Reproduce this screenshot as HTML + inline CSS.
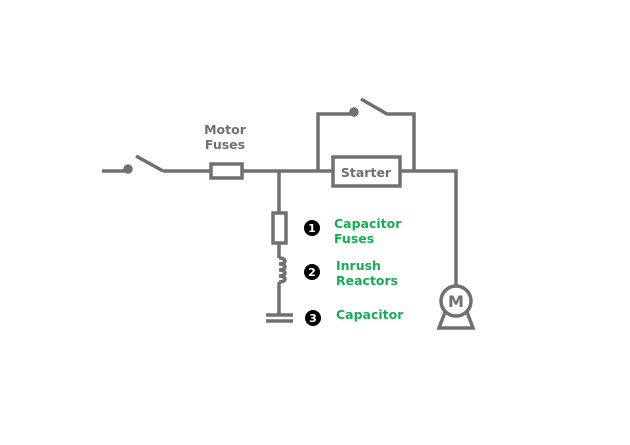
<!DOCTYPE html>
<html><head><style>
body{margin:0;background:#fff;}
svg text{font-family:"DejaVu Sans","Liberation Sans",sans-serif;font-weight:bold;}
</style></head><body>
<svg width="630" height="440" viewBox="0 0 630 440" xmlns="http://www.w3.org/2000/svg">
<g stroke="#707070" stroke-width="3.5" fill="none" stroke-linecap="butt">
<line x1="102" y1="171" x2="125" y2="171"/>
<circle cx="128" cy="169" r="3" fill="#707070"/>
<line x1="136" y1="156" x2="163" y2="171"/>
<line x1="163" y1="171" x2="211" y2="171"/>
<rect x="211" y="164" width="31" height="14" fill="#fff"/>
<line x1="242" y1="171" x2="333" y2="171"/>
<rect x="333" y="157" width="67" height="29" fill="#fff"/>
<polyline points="318,171 318,114 351,114"/>
<circle cx="354" cy="112" r="3" fill="#707070"/>
<polyline points="361,99 387,114 414,114 414,171"/>
<polyline points="400,171 456,171 456,286"/>
<circle cx="456" cy="301" r="15" fill="#fff"/>
<polyline points="445,312 439,328 473,328 467,312"/>
<line x1="279" y1="171" x2="279" y2="213"/>
<rect x="273" y="213" width="13" height="30" fill="#fff"/>
<line x1="279" y1="243" x2="279" y2="258"/>
<path d="M279,258 c8,0 8,6 0,6 c8,0 8,6 0,6 c8,0 8,6 0,6 c8,0 8,6 0,6"/>
<line x1="279" y1="282" x2="279" y2="314"/>
<line x1="266" y1="315" x2="293" y2="315"/>
<line x1="266" y1="321" x2="293" y2="321"/>
</g>
<text x="225" y="134" font-size="12.5" fill="#707070" text-anchor="middle">Motor</text>
<text x="225" y="149" font-size="12.5" fill="#707070" text-anchor="middle">Fuses</text>
<text x="366" y="177" font-size="12.5" fill="#707070" text-anchor="middle">Starter</text>
<text x="456" y="307" font-size="16" fill="#707070" text-anchor="middle">M</text>
<g fill="#000">
<circle cx="312" cy="228" r="8"/><circle cx="312" cy="272" r="8"/><circle cx="313" cy="318" r="8"/>
</g>
<g fill="#fff" font-size="11" text-anchor="middle">
<text x="312" y="232">1</text><text x="312" y="276">2</text><text x="313" y="322">3</text>
</g>
<g fill="#1aaa55" font-size="12.5">
<text x="334" y="228">Capacitor</text><text x="334" y="243">Fuses</text>
<text x="336" y="270">Inrush</text><text x="336" y="285">Reactors</text>
<text x="336" y="319">Capacitor</text>
</g>
</svg>
</body></html>
